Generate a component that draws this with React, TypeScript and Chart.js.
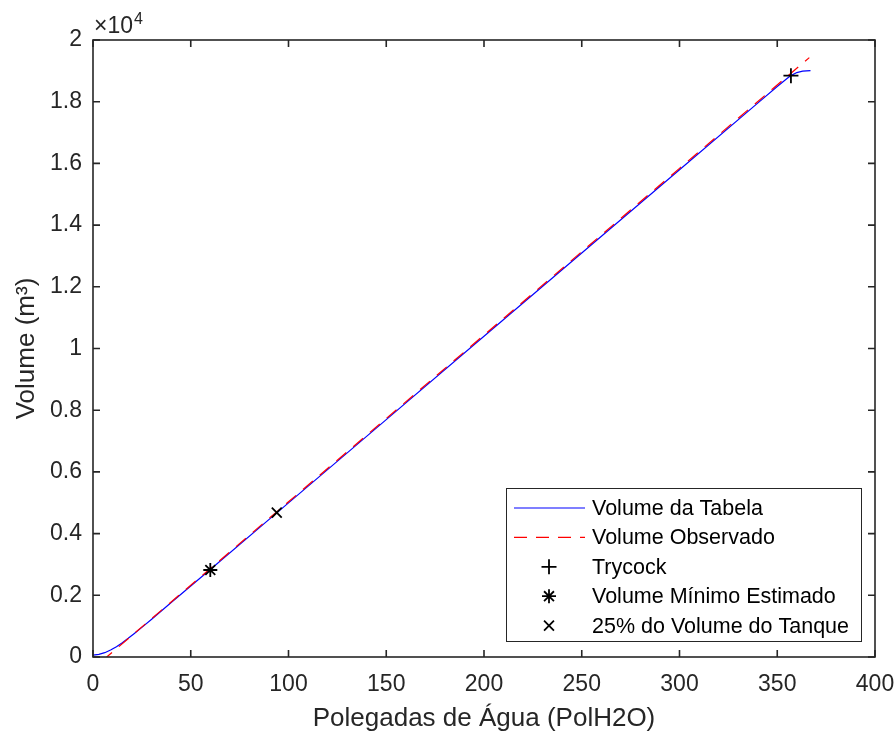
import React, { useEffect, useRef } from "react";
import { Chart, registerables } from "chart.js";

Chart.register(...registerables);

// ---- data ----
const tableX = [0, 3, 6, 9, 12, 15, 18, 21, 25, 30, 40, 50, 60, 94, 150, 200, 250, 300, 340, 350, 355, 357, 360, 363, 367];
const tableY = [60, 85, 140, 225, 335, 465, 605, 755, 960, 1225, 1765, 2300, 2835, 4671, 7695, 10395, 13095, 15795, 17955, 18495, 18750, 18845, 18945, 18990, 19010];

const obsX = [7, 100, 200, 300, 366.4];
const obsY = [0, 5030, 10435, 15840, 19430];

const trycockX = [357];
const trycockY = [18843];
const minVolX = [60];
const minVolY = [2820];
const quarterX = [94];
const quarterY = [4678];

const seriesLabels = [
  "Volume da Tabela",
  "Volume Observado",
  "Trycock",
  "Volume Mínimo Estimado",
  "25% do Volume do Tanque",
];

const xLabel = "Polegadas de Água (PolH2O)";
const yLabel = "Volume (m³)";
const xMin = 0, xMax = 400, xStep = 50;
const yMin = 0, yMax = 20000, yStep = 2000;
const yExponent = 4;

const FONT = "'Liberation Sans', Arial, Helvetica, sans-serif";
const AXC = "#262626";

function toPts(xs: number[], ys: number[]) {
  return xs.map((x, i) => ({ x, y: ys[i] }));
}

function drawMarker(ctx: CanvasRenderingContext2D, style: string, x: number, y: number, r: number) {
  ctx.beginPath();
  if (style === "cross" || style === "star") {
    ctx.moveTo(x - r, y); ctx.lineTo(x + r, y);
    ctx.moveTo(x, y - r); ctx.lineTo(x, y + r);
  }
  if (style === "crossRot" || style === "star") {
    const d = r * 0.7071;
    ctx.moveTo(x - d, y - d); ctx.lineTo(x + d, y + d);
    ctx.moveTo(x - d, y + d); ctx.lineTo(x + d, y - d);
  }
  ctx.stroke();
}

const framePlugin = {
  id: "matFrame",
  afterDatasetsDraw(chart: any) {
    const { ctx, chartArea: a, scales } = chart;
    ctx.save();
    ctx.strokeStyle = AXC;
    ctx.lineWidth = 1.6;
    ctx.strokeRect(a.left, a.top, a.right - a.left, a.bottom - a.top);
    const tl = 7;
    ctx.beginPath();
    scales.x.ticks.forEach((t: any) => {
      const px = scales.x.getPixelForValue(t.value);
      ctx.moveTo(px, a.bottom); ctx.lineTo(px, a.bottom - tl);
      ctx.moveTo(px, a.top); ctx.lineTo(px, a.top + tl);
    });
    scales.y.ticks.forEach((t: any) => {
      const py = scales.y.getPixelForValue(t.value);
      ctx.moveTo(a.left, py); ctx.lineTo(a.left + tl, py);
      ctx.moveTo(a.right, py); ctx.lineTo(a.right - tl, py);
    });
    ctx.stroke();

    // exponent label
    ctx.fillStyle = AXC;
    ctx.textBaseline = "alphabetic";
    ctx.textAlign = "left";
    ctx.font = `23px ${FONT}`;
    ctx.fillText("×10", a.left + 1, a.top - 7);
    const w = ctx.measureText("×10").width;
    ctx.font = `16px ${FONT}`;
    ctx.fillText(String(yExponent), a.left + 1 + w + 1, a.top - 16);
    ctx.restore();
  },
  afterDraw(chart: any) {
    const { ctx } = chart;
    const L = 506.5, T = 488.5, R = 861.5, B = 641.5;
    ctx.save();
    ctx.fillStyle = "#ffffff";
    ctx.fillRect(L, T, R - L, B - T);
    ctx.strokeStyle = AXC;
    ctx.lineWidth = 1;
    ctx.strokeRect(L, T, R - L, B - T);
    chart.data.datasets.forEach((ds: any, i: number) => {
      const y = 508 + i * 29.4;
      ctx.save();
      if (ds.showLine) {
        ctx.strokeStyle = ds.borderColor;
        ctx.lineWidth = ds.borderWidth;
        ctx.setLineDash(ds.borderDash || []);
        ctx.beginPath();
        ctx.moveTo(514, y); ctx.lineTo(585, y);
        ctx.stroke();
      } else {
        ctx.strokeStyle = ds.pointBorderColor;
        ctx.lineWidth = ds.pointBorderWidth;
        drawMarker(ctx, ds.pointStyle, 549, y, ds.pointRadius);
      }
      ctx.restore();
      ctx.fillStyle = "#000";
      ctx.font = `21.5px ${FONT}`;
      ctx.textAlign = "left";
      ctx.textBaseline = "middle";
      ctx.fillText(ds.label, 592, y + 1);
    });
    ctx.restore();
  },
};

export default function App() {
  const ref = useRef<HTMLCanvasElement | null>(null);
  useEffect(() => {
    if (!ref.current) return;
    const markerDs = (label: string, xs: number[], ys: number[], style: string, r: number, order: number) => ({
      label,
      data: toPts(xs, ys),
      showLine: false,
      pointStyle: style,
      pointRadius: r,
      pointBorderColor: "#000000",
      pointBackgroundColor: "#000000",
      pointBorderWidth: 1.8,
      borderColor: "#000000",
      order,
    });
    const chart = new Chart(ref.current, {
      type: "scatter",
      data: {
        datasets: [
          {
            label: seriesLabels[0],
            data: toPts(tableX, tableY),
            showLine: true,
            borderColor: "#0000ff",
            borderWidth: 1.2,
            pointRadius: 0,
            tension: 0,
            order: 5,
          } as any,
          {
            label: seriesLabels[1],
            data: toPts(obsX, obsY),
            showLine: true,
            borderColor: "#ff0000",
            borderWidth: 1.2,
            borderDash: [13, 9],
            borderDashOffset: 6,
            pointRadius: 0,
            tension: 0,
            order: 4,
          },
          markerDs(seriesLabels[2], trycockX, trycockY, "cross", 7.5, 3),
          markerDs(seriesLabels[3], minVolX, minVolY, "star", 7, 2),
          markerDs(seriesLabels[4], quarterX, quarterY, "crossRot", 7, 1),
        ],
      },
      options: {
        animation: false,
        responsive: false,
        maintainAspectRatio: false,
        events: [],
        layout: { padding: { left: 0, right: 20, top: 40, bottom: 0 } },
        plugins: { legend: { display: false }, tooltip: { enabled: false } },
        scales: {
          x: {
            type: "linear",
            min: xMin,
            max: xMax,
            ticks: {
              stepSize: xStep,
              autoSkip: false,
              maxRotation: 0,
              padding: 14,
              color: AXC,
              font: { family: FONT, size: 23 },
            },
            grid: { display: false, drawTicks: false },
            border: { display: false },
            title: {
              display: true,
              text: xLabel,
              color: AXC,
              font: { family: FONT, size: 26, lineHeight: 1 },
              padding: { top: 0, bottom: 1 },
            },
            afterFit: (s: any) => { s.height = 76; s.paddingLeft = 0; s.paddingRight = 0; },
          },
          y: {
            type: "linear",
            min: yMin,
            max: yMax,
            ticks: {
              stepSize: yStep,
              autoSkip: false,
              padding: 11,
              color: AXC,
              font: { family: FONT, size: 23 },
              callback: (v: any) => String(Number((Number(v) / Math.pow(10, yExponent)).toFixed(1))),
            },
            grid: { display: false, drawTicks: false },
            border: { display: false },
            title: {
              display: true,
              text: yLabel,
              color: AXC,
              font: { family: FONT, size: 26, lineHeight: 1 },
              padding: { top: 14, bottom: 0 },
            },
            afterFit: (s: any) => { s.width = 93; s.paddingTop = 0; s.paddingBottom = 0; },
          },
        },
      },
      plugins: [framePlugin],
    });
    return () => chart.destroy();
  }, []);
  return (
    <div style={{ position: "fixed", left: 0, top: 0, width: 895, height: 733, background: "#fff" }}>
      <canvas ref={ref} width={895} height={733} style={{ width: 895, height: 733 }} />
    </div>
  );
}
